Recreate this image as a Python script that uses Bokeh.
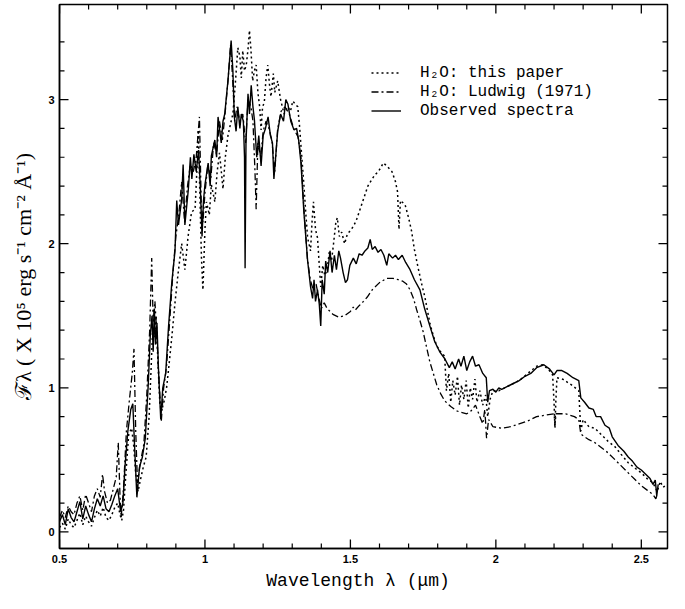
from bokeh.plotting import figure
from bokeh.models import (Range1d, FixedTicker, PrintfTickFormatter,
                          Legend, LegendItem)
from bokeh.embed import file_html
from bokeh.resources import INLINE

# ---------------- data ----------------
obs_x = [0.500, 0.510, 0.520, 0.530, 0.540, 0.550, 0.560, 0.570, 0.580, 0.590,
         0.600, 0.610, 0.620, 0.630, 0.640, 0.650, 0.660, 0.670, 0.680, 0.690,
         0.700, 0.705, 0.710, 0.718, 0.725, 0.735, 0.745, 0.752, 0.758, 0.766,
         0.775, 0.785, 0.795, 0.805, 0.812, 0.818, 0.822, 0.826, 0.830, 0.835,
         0.840, 0.848, 0.855, 0.865, 0.875, 0.886, 0.897, 0.903, 0.909, 0.920,
         0.925, 0.931, 0.943, 0.950, 0.955, 0.962, 0.970, 0.978, 0.984, 0.990,
         0.995, 1.000, 1.011, 1.018, 1.022, 1.034, 1.040, 1.045, 1.056, 1.062,
         1.068, 1.079, 1.090, 1.096, 1.101, 1.107, 1.113, 1.120, 1.125, 1.132,
         1.136, 1.138, 1.141, 1.148, 1.153, 1.159, 1.165, 1.170, 1.178, 1.185,
         1.193, 1.200, 1.208, 1.217, 1.225, 1.232, 1.237, 1.243, 1.250, 1.260,
         1.270, 1.278, 1.285, 1.295, 1.306, 1.315, 1.322, 1.330, 1.340, 1.353,
         1.363, 1.370, 1.375, 1.380, 1.387, 1.393, 1.398, 1.403, 1.410, 1.415,
         1.422, 1.430, 1.437, 1.445, 1.452, 1.460, 1.466, 1.475, 1.483, 1.490,
         1.498, 1.510, 1.520, 1.530, 1.540, 1.550, 1.560, 1.568, 1.575, 1.585,
         1.595, 1.605, 1.615, 1.625, 1.632, 1.645, 1.655, 1.665, 1.678, 1.690,
         1.705, 1.720, 1.739, 1.755, 1.773, 1.790, 1.807, 1.825, 1.840, 1.850,
         1.860, 1.872, 1.880, 1.890, 1.900, 1.910, 1.920, 1.930, 1.942, 1.955,
         1.967, 1.972, 1.978, 1.990, 2.000, 2.010, 2.020, 2.040, 2.060, 2.080,
         2.100, 2.120, 2.140, 2.165, 2.185, 2.200, 2.210, 2.227, 2.245, 2.265,
         2.285, 2.292, 2.305, 2.320, 2.335, 2.345, 2.360, 2.375, 2.390, 2.400,
         2.420, 2.440, 2.455, 2.470, 2.485, 2.500, 2.515, 2.530, 2.540, 2.548,
         2.553, 2.558]
obs_y = [0.07, 0.12, 0.05, 0.16, 0.10, 0.07, 0.14, 0.21, 0.09, 0.18,
         0.12, 0.07, 0.16, 0.23, 0.18, 0.25, 0.16, 0.14, 0.19, 0.25,
         0.30, 0.22, 0.14, 0.20, 0.45, 0.70, 0.85, 0.89, 0.60, 0.24,
         0.45, 0.52, 0.65, 1.02, 1.36, 1.50, 1.25, 1.55, 1.30, 1.45,
         1.14, 0.78, 1.00, 1.10, 1.43, 1.73, 1.95, 2.30, 2.13, 2.31,
         2.55, 2.13, 2.38, 2.60, 2.45, 2.62, 2.50, 2.65, 2.40, 2.05,
         2.30, 2.41, 2.56, 2.40, 2.61, 2.72, 2.60, 2.88, 2.70, 2.85,
         2.90, 3.13, 3.41, 3.20, 2.88, 2.78, 2.95, 2.80, 2.90, 2.85,
         2.60, 1.83, 2.70, 3.04, 2.90, 3.10, 2.95, 2.86, 2.60, 2.75,
         2.54, 2.75, 2.80, 2.88, 2.75, 2.70, 2.45, 2.60, 2.78, 2.90,
         2.85, 3.00, 2.97, 2.85, 2.79, 2.80, 2.72, 2.56, 2.22, 1.88,
         1.70, 1.62, 1.75, 1.60, 1.68, 1.58, 1.43, 1.75, 1.65, 1.88,
         1.80, 1.95, 1.80, 1.92, 1.82, 1.95, 1.90, 1.80, 1.73, 1.75,
         1.85, 1.90, 1.86, 1.93, 1.92, 1.95, 1.97, 2.03, 1.96, 1.98,
         1.94, 1.96, 1.92, 1.85, 1.93, 1.90, 1.92, 1.89, 1.92, 1.87,
         1.82, 1.75, 1.68, 1.55, 1.43, 1.32, 1.25, 1.20, 1.14, 1.18,
         1.13, 1.20, 1.15, 1.22, 1.12, 1.18, 1.22, 1.15, 1.16, 1.10,
         1.07, 0.90, 0.98, 0.99, 0.97, 1.00, 0.99, 1.01, 1.03, 1.05,
         1.08, 1.10, 1.14, 1.16, 1.13, 1.09, 1.12, 1.12, 1.10, 1.07,
         1.05, 0.93, 0.90, 0.86, 0.85, 0.80, 0.80, 0.74, 0.72, 0.66,
         0.60, 0.56, 0.52, 0.49, 0.45, 0.43, 0.40, 0.37, 0.33, 0.36,
         0.25, 0.33]

this_x = [0.500, 0.510, 0.520, 0.530, 0.540, 0.550, 0.560, 0.570, 0.580, 0.590,
          0.600, 0.610, 0.620, 0.630, 0.640, 0.650, 0.660, 0.670, 0.680, 0.690,
          0.700, 0.708, 0.714, 0.720, 0.728, 0.738, 0.748, 0.755, 0.762, 0.770,
          0.778, 0.788, 0.798, 0.808, 0.815, 0.820, 0.826, 0.832, 0.838, 0.845,
          0.852, 0.860, 0.868, 0.875, 0.886, 0.897, 0.908, 0.920, 0.931, 0.942,
          0.954, 0.966, 0.972, 0.977, 0.983, 0.988, 0.993, 1.000, 1.005, 1.015,
          1.022, 1.034, 1.042, 1.050, 1.062, 1.070, 1.079, 1.090, 1.096, 1.104,
          1.113, 1.120, 1.125, 1.130, 1.136, 1.142, 1.148, 1.153, 1.158, 1.164,
          1.170, 1.176, 1.182, 1.188, 1.193, 1.198, 1.204, 1.210, 1.216, 1.222,
          1.227, 1.235, 1.240, 1.250, 1.260, 1.272, 1.285, 1.294, 1.302, 1.310,
          1.319, 1.325, 1.330, 1.340, 1.347, 1.353, 1.363, 1.368, 1.373, 1.380,
          1.387, 1.393, 1.398, 1.405, 1.412, 1.420, 1.428, 1.435, 1.442, 1.450,
          1.455, 1.462, 1.470, 1.480, 1.490, 1.500, 1.510, 1.520, 1.530, 1.545,
          1.560, 1.575, 1.585, 1.596, 1.605, 1.613, 1.625, 1.643, 1.655, 1.662,
          1.667, 1.672, 1.688, 1.700, 1.710, 1.720, 1.732, 1.745, 1.756, 1.773,
          1.785, 1.797, 1.810, 1.824, 1.830, 1.838, 1.845, 1.852, 1.860, 1.868,
          1.875, 1.882, 1.890, 1.898, 1.905, 1.912, 1.920, 1.928, 1.935, 1.945,
          1.955, 1.965, 1.972, 1.980, 1.990, 2.010, 2.030, 2.050, 2.080, 2.110,
          2.140, 2.160, 2.180, 2.195, 2.200, 2.203, 2.206, 2.210, 2.230, 2.260,
          2.285, 2.292, 2.300, 2.320, 2.340, 2.360, 2.385, 2.410, 2.430, 2.455,
          2.480, 2.500, 2.520, 2.540, 2.555, 2.565, 2.575, 2.590]
this_y = [0.03, 0.06, 0.02, 0.09, 0.05, 0.03, 0.08, 0.13, 0.05, 0.11,
          0.07, 0.04, 0.10, 0.15, 0.11, 0.17, 0.10, 0.08, 0.12, 0.17,
          0.20, 0.12, 0.08, 0.15, 0.40, 0.68, 0.72, 0.60, 0.40, 0.28,
          0.36, 0.45, 0.52, 0.80, 1.14, 1.40, 1.35, 1.50, 1.20, 0.89,
          0.85, 0.91, 1.00, 1.13, 1.35, 1.59, 1.80, 2.00, 1.82, 2.05,
          2.22, 2.24, 2.50, 2.79, 2.30, 1.90, 1.68, 2.10, 2.29, 2.20,
          2.41, 2.29, 2.50, 2.63, 2.38, 2.60, 2.75, 2.85, 2.90, 3.10,
          3.36, 3.30, 3.15, 3.34, 3.20, 3.24, 3.35, 3.48, 3.35, 3.13,
          3.20, 3.24, 3.05, 2.95, 2.79, 2.95, 2.98, 3.15, 3.24, 3.10,
          3.02, 3.18, 3.05, 3.13, 3.00, 2.90, 2.95, 2.92, 2.99, 2.97,
          2.95, 2.82, 2.68, 2.41, 2.20, 2.04, 1.95, 2.15, 2.29, 2.10,
          2.04, 1.85, 1.70, 1.85, 1.78, 1.82, 1.95, 1.88, 2.00, 2.15,
          2.18, 2.05, 2.08, 2.00, 2.07, 2.09, 2.12, 2.16, 2.22, 2.31,
          2.40, 2.45, 2.48, 2.50, 2.53, 2.56, 2.54, 2.50, 2.43, 2.36,
          2.10, 2.30, 2.27, 2.18, 2.09, 1.96, 1.84, 1.72, 1.63, 1.45,
          1.36, 1.29, 1.25, 1.22, 0.98, 1.10, 0.90, 1.05, 0.95, 1.08,
          0.88, 1.02, 0.92, 1.05, 0.86, 1.00, 0.92, 1.06, 0.90, 0.98,
          0.88, 0.95, 0.80, 0.92, 0.98, 0.98, 1.00, 1.02, 1.05, 1.10,
          1.15, 1.16, 1.13, 1.09, 0.90, 0.72, 0.90, 1.07, 1.06, 1.02,
          0.98, 0.70, 0.78, 0.73, 0.72, 0.68, 0.63, 0.59, 0.54, 0.48,
          0.44, 0.41, 0.37, 0.34, 0.28, 0.35, 0.31, 0.33]

lud_x = [0.500, 0.510, 0.520, 0.530, 0.540, 0.550, 0.560, 0.570, 0.580, 0.590,
         0.600, 0.610, 0.620, 0.630, 0.640, 0.648, 0.655, 0.665, 0.675, 0.685,
         0.695, 0.702, 0.708, 0.712, 0.720, 0.730, 0.740, 0.750, 0.756, 0.762,
         0.768, 0.778, 0.790, 0.800, 0.810, 0.817, 0.822, 0.828, 0.835, 0.842,
         0.850, 0.858, 0.868, 0.880, 0.890, 0.900, 0.910, 0.920, 0.930, 0.940,
         0.950, 0.960, 0.970, 0.981, 0.987, 0.993, 1.000, 1.010, 1.020, 1.030,
         1.040, 1.050, 1.060, 1.070, 1.080, 1.088, 1.095, 1.102, 1.110, 1.120,
         1.130, 1.140, 1.148, 1.158, 1.165, 1.172, 1.176, 1.182, 1.192, 1.200,
         1.210, 1.220, 1.230, 1.240, 1.250, 1.262, 1.275, 1.290, 1.305, 1.320,
         1.330, 1.340, 1.352, 1.362, 1.372, 1.382, 1.392, 1.400, 1.410, 1.420,
         1.440, 1.460, 1.480, 1.500, 1.510, 1.517, 1.530, 1.545, 1.558, 1.575,
         1.600, 1.625, 1.647, 1.665, 1.680, 1.693, 1.705, 1.717, 1.728, 1.740,
         1.750, 1.762, 1.773, 1.785, 1.797, 1.810, 1.824, 1.845, 1.865, 1.880,
         1.900, 1.915, 1.930, 1.945, 1.955, 1.962, 1.968, 1.975, 1.990, 2.020,
         2.050, 2.080, 2.110, 2.140, 2.170, 2.200, 2.203, 2.207, 2.240, 2.270,
         2.285, 2.292, 2.305, 2.320, 2.340, 2.360, 2.385, 2.410, 2.430, 2.455,
         2.480, 2.500, 2.520, 2.540, 2.550, 2.556]
lud_y = [0.10, 0.15, 0.10, 0.18, 0.14, 0.12, 0.20, 0.25, 0.15, 0.26,
         0.20, 0.14, 0.25, 0.30, 0.24, 0.40, 0.28, 0.20, 0.22, 0.30,
         0.38, 0.62, 0.25, 0.10, 0.30, 0.70, 0.91, 1.10, 1.27, 0.70,
         0.34, 0.48, 0.61, 0.95, 1.40, 1.90, 1.45, 1.60, 1.35, 1.05,
         0.77, 1.00, 1.15, 1.50, 1.80, 2.05, 2.20, 2.43, 2.15, 2.40,
         2.55, 2.50, 2.60, 2.88, 2.30, 2.15, 2.35, 2.55, 2.45, 2.70,
         2.62, 2.85, 2.72, 2.92, 3.15, 3.38, 3.15, 2.85, 2.95, 2.85,
         2.90, 2.70, 3.00, 2.95, 2.85, 2.50, 2.24, 2.70, 2.60, 2.78,
         2.85, 2.80, 2.72, 2.50, 2.80, 2.92, 2.95, 2.90, 2.80, 2.74,
         2.60, 2.25, 1.90, 1.75, 1.68, 1.72, 1.62, 1.55, 1.59, 1.55,
         1.51, 1.49, 1.50, 1.53, 1.56, 1.54, 1.57, 1.60, 1.63, 1.68,
         1.73, 1.76, 1.76, 1.75, 1.74, 1.72, 1.68, 1.62, 1.54, 1.46,
         1.39, 1.28, 1.18, 1.10, 1.02, 0.96, 0.91, 0.87, 0.84, 0.83,
         0.82, 0.84, 0.88, 0.80, 0.75, 0.85, 0.65, 0.78, 0.73, 0.72,
         0.73, 0.75, 0.77, 0.80, 0.81, 0.82, 0.74, 0.82, 0.82, 0.80,
         0.78, 0.68, 0.66, 0.64, 0.62, 0.59, 0.55, 0.50, 0.46, 0.41,
         0.36, 0.32, 0.29, 0.26, 0.23, 0.27]

x_major = [0.5, 1.0, 1.5, 2.0, 2.5]
x_minor = [0.6, 0.7, 0.8, 0.9, 1.1, 1.2, 1.3, 1.4, 1.6, 1.7, 1.8, 1.9,
           2.1, 2.2, 2.3, 2.4]
y_major = [0, 1, 2, 3]
y_minor = [0.2, 0.4, 0.6, 0.8, 1.2, 1.4, 1.6, 1.8, 2.2, 2.4, 2.6, 2.8,
           3.2, 3.4]

labels = ["H\u2082O: this paper", "H\u2082O: Ludwig (1971)", "Observed spectra"]

# ---------------- layout ----------------
W, H = 669, 593
BL, BR, BT, BB = 59, 2, 4, 41
X0, X1 = 0.5, 2.59
Y0, Y1 = -0.115, 3.66
frame_w = W - BL - BR
frame_h = H - BT - BB
dx_px = (X1 - X0) / frame_w      # x data per pixel
dy_px = (Y1 - Y0) / frame_h      # y data per pixel
MAJ, MIN = 9, 5                  # inward tick lengths in px

p = figure(width=W, height=H, output_backend="svg", toolbar_location=None,
           x_range=Range1d(X0, X1), y_range=Range1d(Y0, Y1),
           min_border_left=BL, min_border_right=BR, min_border_top=BT,
           min_border_bottom=BB)
p.xgrid.visible = False
p.ygrid.visible = False
p.outline_line_color = "black"
p.outline_line_width = 1.5
p.background_fill_color = "white"
p.border_fill_color = "white"

r_lud = p.line(lud_x, lud_y, line_color="black", line_width=1.3,
               line_dash="7 3 2 3")
r_this = p.line(this_x, this_y, line_color="black", line_width=1.5,
                line_dash="2 3")
r_obs = p.line(obs_x, obs_y, line_color="black", line_width=1.4)

# inward ticks on all four sides (drawn from the tick lists)
for ticks, L, w in [(x_major, MAJ, 1.3), (x_minor, MIN, 1.2)]:
    n = len(ticks)
    p.segment(x0=ticks, x1=ticks, y0=[Y0] * n, y1=[Y0 + L * dy_px] * n,
              line_color="black", line_width=w)
    p.segment(x0=ticks, x1=ticks, y0=[Y1] * n, y1=[Y1 - L * dy_px] * n,
              line_color="black", line_width=w)
for ticks, L, w in [(y_major, MAJ, 1.3), (y_minor, MIN, 1.2)]:
    n = len(ticks)
    p.segment(x0=[X0] * n, x1=[X0 + L * dx_px] * n, y0=ticks, y1=ticks,
              line_color="black", line_width=w)
    p.segment(x0=[X1] * n, x1=[X1 - L * dx_px] * n, y0=ticks, y1=ticks,
              line_color="black", line_width=w)

bottom_ax = p.below[0]
left_ax = p.left[0]

bottom_ax.ticker = FixedTicker(ticks=x_major, minor_ticks=[])
left_ax.ticker = FixedTicker(ticks=y_major, minor_ticks=[])

for ax in [bottom_ax, left_ax]:
    ax.axis_line_color = "black"
    ax.axis_line_width = 1.5
    ax.major_tick_in = 0
    ax.major_tick_out = 0
    ax.minor_tick_in = 0
    ax.minor_tick_out = 0
    ax.major_tick_line_color = None
    ax.minor_tick_line_color = None
    ax.major_label_text_font = "Liberation Sans"
    ax.major_label_text_font_style = "bold"
    ax.major_label_text_font_size = "11px"
    ax.major_label_text_color = "black"

bottom_ax.formatter = PrintfTickFormatter(format="%g")
left_ax.formatter = PrintfTickFormatter(format="%g")
bottom_ax.major_label_standoff = 6
left_ax.major_label_standoff = 5

bottom_ax.axis_label = "Wavelength \u03bb  (\u03bcm)"
bottom_ax.axis_label_text_font = "Liberation Mono"
bottom_ax.axis_label_text_font_size = "18px"
bottom_ax.axis_label_text_font_style = "normal"
bottom_ax.axis_label_text_color = "black"
bottom_ax.axis_label_standoff = 5

left_ax.axis_label = "\u2131\u03bb ( X 10\u2075 erg s\u207b\u00b9 cm\u207b\u00b2 \u00c5\u207b\u00b9)"
left_ax.axis_label_text_font = "Liberation Serif"
left_ax.axis_label_text_font_size = "22px"
left_ax.axis_label_text_font_style = "normal"
left_ax.axis_label_text_color = "black"
left_ax.axis_label_standoff = 9

legend = Legend(items=[LegendItem(label=labels[0], renderers=[r_this]),
                       LegendItem(label=labels[1], renderers=[r_lud]),
                       LegendItem(label=labels[2], renderers=[r_obs])],
                location=(312, 428))
legend.border_line_color = None
legend.background_fill_alpha = 0
legend.padding = 0
legend.margin = 0
legend.spacing = 0
legend.glyph_width = 30
legend.glyph_height = 19
legend.label_height = 19
legend.label_standoff = 19
legend.label_text_font = "Liberation Mono"
legend.label_text_font_size = "16px"
legend.label_text_color = "black"
p.add_layout(legend)

open("out.html", "w").write(file_html(p, INLINE))
